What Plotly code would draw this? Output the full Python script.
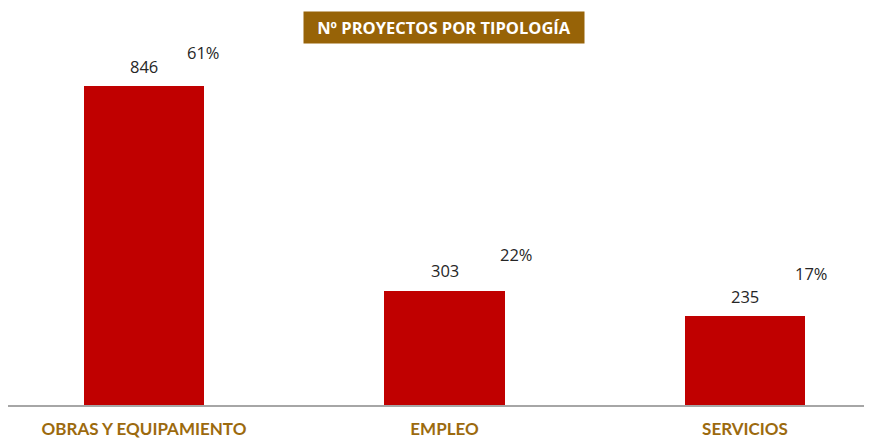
import plotly.graph_objects as go

categories = ["OBRAS Y EQUIPAMIENTO", "EMPLEO", "SERVICIOS"]
projects = [846, 303, 235]
percent_labels = ["61%", "22%", "17%"]
title_text = "Nº PROYECTOS POR TIPOLOGÍA"

# style: pixel offsets of the labels relative to the bar centre/top
val_yshift = 20
pct_xshift = [59, 72, 66]
pct_yshift = [34, 36, 43]

bar_color = "#C00000"
label_gold = "#9C6A0E"
text_dark = "#262626"
x_idx = list(range(len(categories)))

# the page body adds an 8px margin, so the figure is 8px smaller each way
fig = go.Figure()
fig.add_trace(go.Bar(
    x=x_idx, y=projects, width=0.4,
    marker=dict(color=bar_color, line=dict(width=0)),
    hoverinfo="skip",
))

for i, (v, p) in enumerate(zip(projects, percent_labels)):
    fig.add_annotation(
        x=i, y=v, text=str(v), showarrow=False, yanchor="middle",
        yshift=val_yshift,
        font=dict(family="Open Sans", size=16.5, color=text_dark),
    )
    fig.add_annotation(
        x=i, y=v, text=p, showarrow=False, yanchor="middle",
        xshift=pct_xshift[i], yshift=pct_yshift[i],
        font=dict(family="Open Sans", size=16.5, color=text_dark),
    )

fig.add_annotation(
    xref="paper", yref="paper", x=(444 - 8) / 864, y=1 + 13 / 365,
    text="<b>" + title_text + "</b>", showarrow=False,
    font=dict(family="Open Sans", size=16.5, color="white"),
    bgcolor="#976307", borderpad=4, width=272, height=23,
    xanchor="center", yanchor="middle",
)

fig.update_layout(
    width=864, height=431,
    margin=dict(l=0, r=0, t=32, b=34, autoexpand=False),
    paper_bgcolor="white", plot_bgcolor="white",
    showlegend=False, bargap=0,
    xaxis=dict(
        range=[-0.4526, 2.4226], tickmode="array", tickvals=x_idx,
        ticktext=categories, showgrid=False, zeroline=False,
        showline=True, linecolor="#A6A6A6", linewidth=2, ticks="",
        ticklabelstandoff=8, automargin=False,
        tickfont=dict(family="Lato", size=17, color=label_gold, weight="bold"),
        fixedrange=True,
    ),
    yaxis=dict(range=[0, 968], visible=False, fixedrange=True, automargin=False),
)

fig.write_html("out.html")
